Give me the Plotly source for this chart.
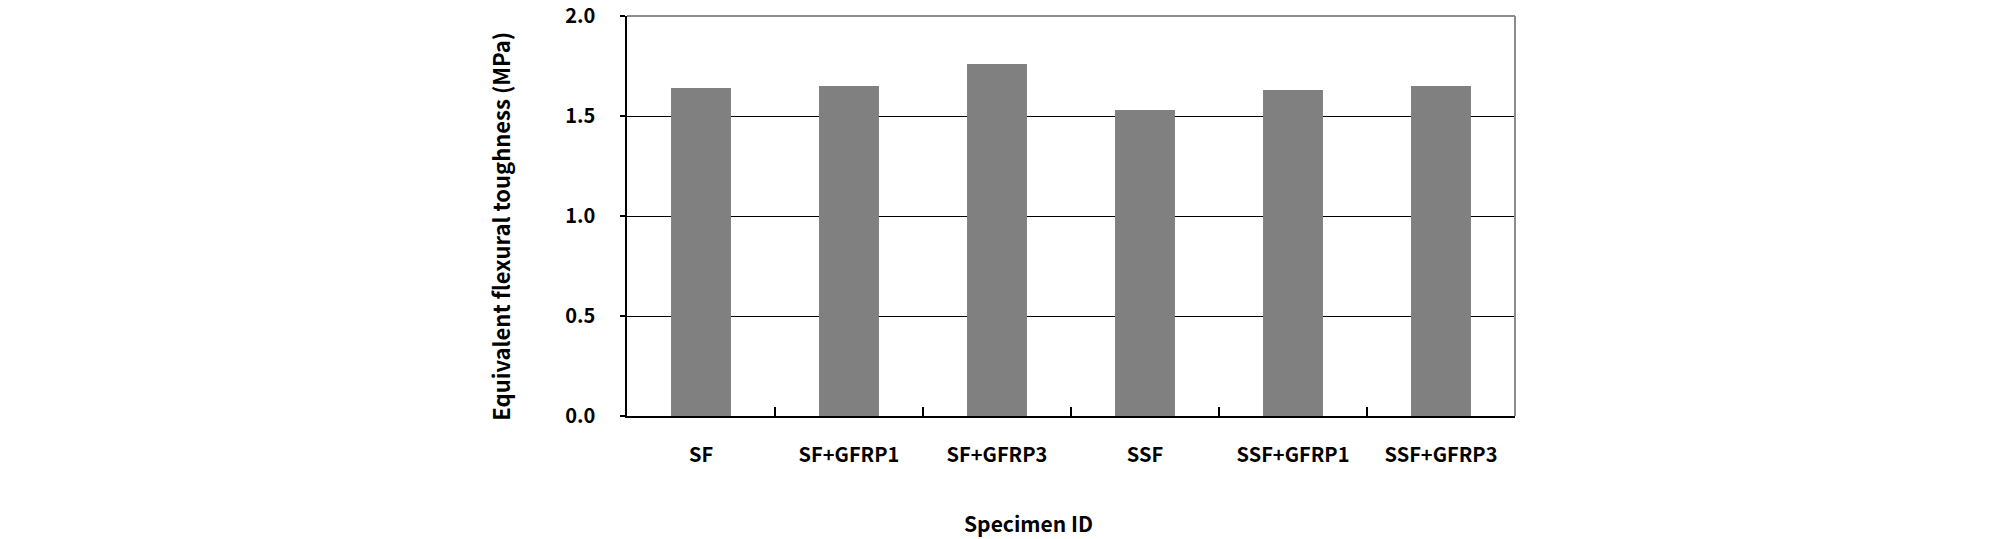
import plotly.graph_objects as go

categories = ["SF", "SF+GFRP1", "SF+GFRP3", "SSF", "SSF+GFRP1", "SSF+GFRP3"]
toughness = [1.64, 1.65, 1.76, 1.53, 1.63, 1.65]
y_ticks = [0.0, 0.5, 1.0, 1.5, 2.0]
y_tick_labels = ["0.0", "0.5", "1.0", "1.5", "2.0"]

FONT = "Noto Sans CJK KR"

W, H = 2008, 539
L, T, B, R = 627, 15.5, 123, 493
PW, PH = W - L - R, H - T - B

fig = go.Figure()
fig.add_trace(go.Bar(
    x=categories,
    y=toughness,
    marker=dict(color="#808080", line=dict(width=0)),
    hoverinfo="skip",
))

fig.update_layout(
    width=W,
    height=H,
    margin=dict(l=L, r=R, t=T, b=B, autoexpand=False),
    paper_bgcolor="white",
    plot_bgcolor="white",
    bargap=0.595,
    showlegend=False,
    font=dict(family=FONT, color="black", size=20, weight="bold"),
)

fig.update_xaxes(
    type="category",
    range=[-0.5, 5.5],
    showline=True,
    linecolor="black",
    linewidth=2,
    ticks="inside",
    tickson="boundaries",
    ticklen=9,
    tickwidth=1.5,
    tickcolor="black",
    showgrid=False,
    tickfont=dict(family=FONT, size=20, color="black", weight="bold"),
    ticklabelstandoff=20,
)

fig.update_yaxes(
    range=[0, 2.0],
    tickvals=y_ticks,
    ticktext=y_tick_labels,
    showline=True,
    linecolor="black",
    linewidth=1.5,
    ticks="outside",
    ticklen=5,
    tickwidth=1.5,
    tickcolor="black",
    showgrid=True,
    gridcolor="black",
    gridwidth=1,
    zeroline=False,
    tickfont=dict(family=FONT, size=20, color="black", weight="bold"),
    ticklabelstandoff=21,
    ticklabeloverflow="allow",
)

# gray top and right frame
fig.add_shape(type="line", xref="paper", yref="paper", x0=0, x1=1, y0=1, y1=1,
              line=dict(color="#8c8c8c", width=2), layer="above")
fig.add_shape(type="line", xref="paper", yref="paper", x0=1, x1=1, y0=0, y1=1,
              line=dict(color="#8c8c8c", width=2), layer="above")

fig.add_annotation(
    text="Equivalent flexural toughness (MPa)",
    xref="paper", yref="paper",
    x=(500 - L) / PW, y=(H - B - 226.5) / PH,
    xanchor="center", yanchor="middle",
    textangle=-90, showarrow=False,
    font=dict(family=FONT, size=22, color="black", weight="bold"),
)
fig.add_annotation(
    text="Specimen ID",
    xref="paper", yref="paper",
    x=(1028 - L) / PW, y=(H - B - 523) / PH,
    xanchor="center", yanchor="middle",
    showarrow=False,
    font=dict(family=FONT, size=21, color="black", weight="bold"),
)

fig.write_html(
    "out.html",
    config={"displayModeBar": False},
    post_script="document.body.style.margin='0';",
)
